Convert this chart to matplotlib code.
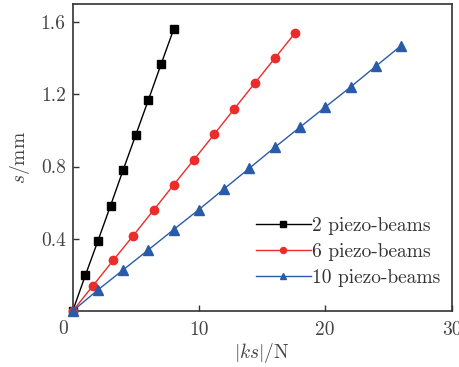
import matplotlib
matplotlib.use("Agg")
import matplotlib.pyplot as plt

plt.rcParams["font.family"] = ["cmr10", "DejaVu Serif"]
plt.rcParams["mathtext.fontset"] = "cm"
plt.rcParams["axes.formatter.use_mathtext"] = True

# Measured displacement s (mm) against |ks| (N)
x_2 = [0, 1, 2, 3, 4, 5, 6, 7, 8]
s_2 = [0, 0.197, 0.389, 0.584, 0.782, 0.976, 1.170, 1.367, 1.561]

x_6 = [0, 1.6, 3.2, 4.8, 6.4, 8.0, 9.6, 11.2, 12.8, 14.4, 16.0, 17.6]
s_6 = [0, 0.140, 0.280, 0.418, 0.558, 0.699, 0.838, 0.978, 1.120, 1.260, 1.399, 1.539]

x_10 = [0, 2, 4, 6, 8, 10, 12, 14, 16, 18, 20, 22, 24, 26]
s_10 = [0, 0.117, 0.228, 0.339, 0.451, 0.562, 0.677, 0.791, 0.906, 1.018,
        1.129, 1.240, 1.355, 1.469]

labels = ["2 piezo-beams", "6 piezo-beams", "10 piezo-beams"]
x_ticks = [10, 20, 30]
x_tick_labels = ["10", "20", "30"]
y_ticks = [0.4, 0.8, 1.2, 1.6]
y_tick_labels = ["0.4", "0.8", "1.2", "1.6"]

fig = plt.figure(figsize=(4.59, 3.67), dpi=100)
ax = fig.add_axes([0.1584, 0.1526, 0.8253, 0.8365])

ax.plot(x_2, s_2, color="black", lw=1.0, marker="s", ms=5.5,
        label=labels[0], clip_on=False, zorder=3)
ax.plot(x_6, s_6, color="#ec2b2b", lw=1.0, marker="o", ms=6.0,
        label=labels[1], clip_on=False, zorder=3)
ax.plot(x_10, s_10, color="#2a5ba9", lw=1.0, marker="^", ms=6.5,
        label=labels[2], clip_on=False, zorder=4)

ax.set_xlim(0, 30)
ax.set_ylim(0, 1.7)
ax.set_xticks(x_ticks, x_tick_labels)
ax.set_yticks(y_ticks, y_tick_labels)
ax.tick_params(direction="in", length=4.5, width=1.0, labelsize=14,
               colors="#333333", labelcolor="#444444")
ax.tick_params(axis="x", pad=7)
ax.tick_params(axis="y", pad=5)
ax.text(-0.012, -0.028, "0", transform=ax.transAxes, ha="right", va="top",
        fontsize=14, color="#444444")

for sp in ax.spines.values():
    sp.set_linewidth(1.2)
    sp.set_color("#333333")

ax.set_xlabel(r"$|ks|$/N", fontsize=14, color="#444444", labelpad=2)
ax.set_ylabel(r"$s$/mm", fontsize=14, color="#444444", labelpad=6)

leg = ax.legend(loc="lower right", bbox_to_anchor=(1.0, 0.04), frameon=False,
                fontsize=14, handlelength=2.8, handletextpad=0.05,
                labelspacing=0.42, borderaxespad=0.2, markerscale=0.72)
for t in leg.get_texts():
    t.set_color("#333333")

fig.savefig("out.png", dpi=100)
